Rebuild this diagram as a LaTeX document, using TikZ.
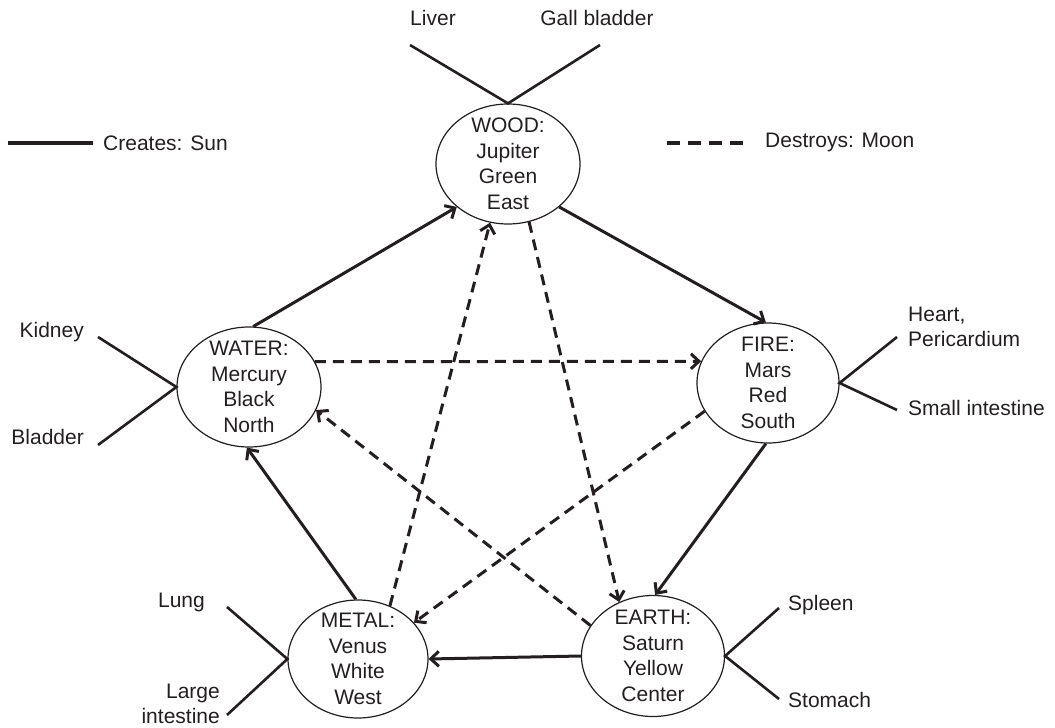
\documentclass[tikz,border=0pt]{standalone}
\usepackage{fontspec}
\setmainfont{Liberation Sans}
\usetikzlibrary{arrows.meta,shapes.geometric}
\definecolor{ink}{HTML}{231F20}
\begin{document}
\begin{tikzpicture}[x=1pt,y=-1pt,
  el/.style={draw=ink,ellipse,line width=1.2pt,minimum width=144pt,minimum height=120pt,inner sep=0pt},
  eltext/.style={align=center,font=\fontsize{21}{25.5}\selectfont,inner sep=0pt,text=ink},
  lbl/.style={font=\fontsize{21}{25.5}\selectfont,inner sep=0pt,text=ink},
  organ/.style={draw=ink,line width=2.6pt},
  creates/.style={draw=ink,line width=3pt,-{Straight Barb[length=8pt,width=15pt]}},
  destroys/.style={draw=ink,line width=3pt,dash pattern=on 11pt off 7pt,-{Straight Barb[length=8pt,width=15pt]}},
]
\useasboundingbox (0,0) rectangle (1055,728);

% element ellipses
\node[el] (wood) at (508,164) {};
\node[eltext] (woodt) at (wood) {WOOD:\\Jupiter\\Green\\East};
\node[el] (water) at (249,387) {};
\node[eltext] (watert) at (water) {WATER:\\Mercury\\Black\\North};
\node[el,minimum width=142pt] (fire) at (768,383) {};
\node[eltext] (firet) at (fire) {FIRE:\\Mars\\Red\\South};
\node[el,minimum width=140pt,minimum height=118pt] (metal) at (358,659) {};
\node[eltext] (metalt) at (metal) {METAL:\\Venus\\White\\West};
\node[el,minimum width=143pt,minimum height=121pt] (earth) at (653,656) {};
\node[eltext] (eartht) at (earth) {EARTH:\\Saturn\\Yellow\\Center};

% organs
\coordinate (liverend) at (410,45);
\coordinate (gallend) at (600,45);
\draw[organ] (liverend) -- (wood.north) -- (gallend);
\node[lbl] (liver) at (433,18) {Liver};
\node[lbl] (gall) at (597,18) {Gall bladder};

\coordinate (kidneyend) at (98,337);
\coordinate (bladderend) at (98,445);
\draw[organ] (kidneyend) -- (water.west) -- (bladderend);
\node[lbl,anchor=east] (kidney) at (84,332) {Kidney};
\node[lbl,anchor=east] (bladder) at (84,437) {Bladder};

\coordinate (heartend) at (897,337);
\coordinate (smallend) at (897,410);
\draw[organ] (heartend) -- (fire.east) -- (smallend);
\node[lbl,anchor=west,align=left] (heart) at (908,327) {Heart,\\Pericardium};
\node[lbl,anchor=west] (small) at (908,408) {Small intestine};

\coordinate (lungend) at (227,607);
\coordinate (largeend) at (227,715);
\draw[organ] (lungend) -- (metal.west) -- (largeend);
\node[lbl,anchor=east] (lung) at (205,602) {Lung};
\node[lbl,anchor=east,align=right] (large) at (220,704) {Large\\intestine};

\coordinate (spleenend) at (779,608);
\coordinate (stomachend) at (779,699);
\draw[organ] (spleenend) -- (earth.east) -- (stomachend);
\node[lbl,anchor=west] (spleen) at (788,605) {Spleen};
\node[lbl,anchor=west] (stomach) at (788,700) {Stomach};

% legend
\coordinate (ls1) at (8,143);
\coordinate (ls2) at (93,143);
\draw[draw=ink,line width=4pt] (ls1) -- (ls2);
\node[lbl,anchor=west] (createslbl) at (103,143) {Creates: Sun};
\coordinate (ld1) at (667,143);
\coordinate (ld2) at (743,143);
\draw[draw=ink,line width=4pt,dash pattern=on 13pt off 8pt] (ld1) -- (ld2);
\node[lbl,anchor=west] (destroyslbl) at (765,142) {Destroys: Moon};

% creation cycle
\draw[creates] (water.86) -- (wood.220);
\draw[creates] (wood.320) -- (fire.92);
\draw[creates] (fire.268) -- (earth.88);
\draw[creates] (earth.west) -- (metal.east);
\draw[creates] (metal.92) -- (water.268);

% destruction cycle
\draw[destroys] (water.21) -- (fire.162.5);
\draw[destroys] (wood.290) -- (earth.122);
\draw[destroys] (metal.59) -- (wood.253);
\draw[destroys] (earth.154) -- (water.341);
\draw[destroys] (fire.204) -- (metal.33.5);
\end{tikzpicture}
\end{document}
